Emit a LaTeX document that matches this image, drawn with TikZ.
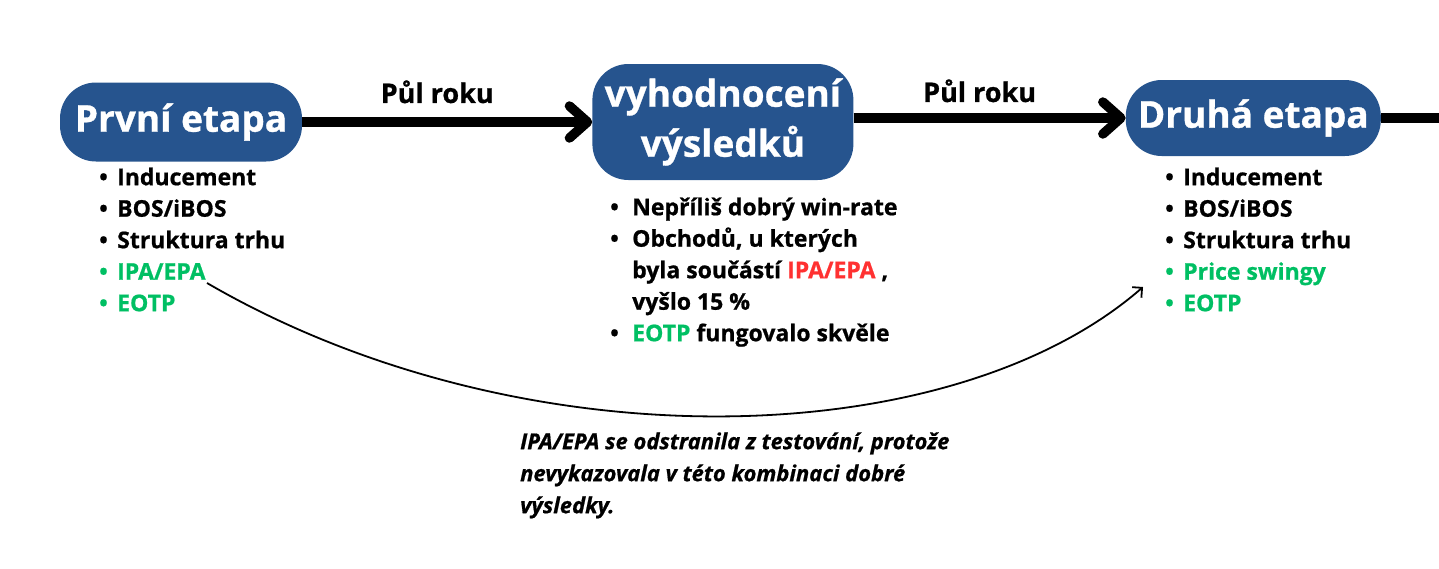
\documentclass[tikz,border=0pt]{standalone}
\usepackage{fontspec}
\setmainfont{Open Sans}[BoldFeatures={FakeBold=0.8},BoldItalicFeatures={FakeBold=0.8}]
\usetikzlibrary{positioning,arrows.meta}
\definecolor{stageblue}{HTML}{26548E}
\definecolor{keepgreen}{HTML}{00BF63}
\definecolor{dropred}{HTML}{FF3131}
\newcommand{\bul}[1][18pt]{\makebox[#1][l]{\textbullet}}
\newcommand{\ok}[1]{\textcolor{keepgreen}{#1}}

\begin{document}
\begin{tikzpicture}[x=1pt,y=-1pt,
stage/.style={fill=stageblue,text=white,rounded corners=36pt,align=center,inner sep=0pt,
  font=\fontsize{37}{50}\selectfont\bfseries},
items/.style={anchor=north west,align=left,inner sep=0pt,
  font=\fontsize{23}{31.5}\selectfont\bfseries},
period/.style={line width=9.5pt,-{Straight Barb[length=18pt,width=32pt,line cap=round,line join=round]}},
halfyear/.style={above=14pt,xshift=-10pt,inner sep=0pt,font=\fontsize{27}{32}\selectfont\bfseries}]
\useasboundingbox (0,0) rectangle (1439,568);
\node[stage,minimum width=242pt,minimum height=79pt] (first) at (181,122) {První etapa};
\node[stage,minimum width=261pt,minimum height=116pt,right=290pt of first] (review) {vyhodnocení\\výsledků};
\node[stage,minimum width=255pt,minimum height=76pt,right=272pt of review,yshift=4pt] (second) {Druhá etapa};
\coordinate (rest) at (1445,118);
\draw[period] (first) -- node[halfyear]{Půl roku} (review);
\draw[period] (review.east |- second) -- node[halfyear,above=11pt]{Půl roku} (second);
\draw[line width=9.5pt] (second) -- (rest);
% lists under the stages
\node[items] (firstlist) at (99,165) {\rule{0pt}{20pt}\bul Inducement\\ \bul BOS/iBOS\\
  \bul Struktura trhu\\ \ok{\bul IPA/EPA}\\ \ok{\bul EOTP}};
\node[items] (reviewlist) at (610,195) {\rule{0pt}{20pt}\bul[22pt]Nepříliš dobrý win-rate\\
  \bul[22pt]Obchodů, u kterých\\ \hspace*{22pt}byla součástí \textcolor{dropred}{IPA/EPA} ,\\
  \hspace*{22pt}vyšlo 15 \%\\ \bul[22pt]\ok{EOTP} fungovalo skvěle};
\node[items] (secondlist) at (1165,165) {\rule{0pt}{20pt}\bul Inducement\\ \bul BOS/iBOS\\
  \bul Struktura trhu\\ \ok{\bul Price swingy}\\ \ok{\bul EOTP}};
\node[items,font=\fontsize{22}{32}\selectfont\bfseries\itshape] (note) at (520,429)
  {\rule{0pt}{20pt}IPA/EPA se odstranila z testování, protože\\ nevykazovala v této kombinaci dobré\\ výsledky.};
% curved link from the dropped item
\coordinate (dropped) at (207,283);
\coordinate (kept) at (1143,287);
\draw[line width=1.8pt,-{Straight Barb[length=7pt,width=14pt]}] (dropped) .. controls (520,465) and (950,455) .. (kept);
\end{tikzpicture}
\end{document}
